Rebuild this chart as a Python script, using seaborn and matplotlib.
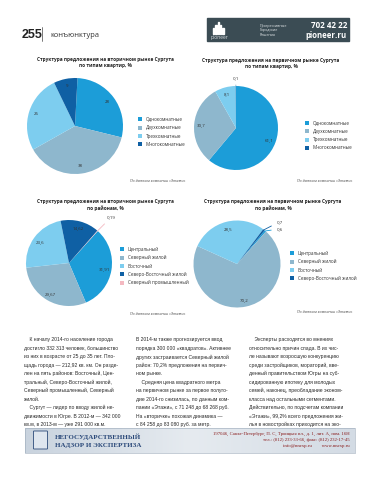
import numpy as np
import matplotlib
matplotlib.use("Agg")
import matplotlib.pyplot as plt
import matplotlib.patches as mpatches
import seaborn as sns

# =====================================================
# DATA
# =====================================================

room_types = ["Однокомнатные", "Двухкомнатные", "Трехкомнатные", "Многокомнатные"]
secondary_rooms = [28, 38, 26, 8]
secondary_rooms_lbl = ["28", "38", "26", "9"]
primary_rooms = [61.1, 30.7, 8.1, 0.1]
primary_rooms_lbl = ["61,1", "30,7", "8,1", "0,1"]

districts_sec = ["Центральный", "Северный жилой", "Восточный",
                 "Северо-Восточный жилой", "Северный промышленный"]
secondary_districts = [31.91, 29.67, 23.6, 14.62, 0.19]
secondary_districts_lbl = ["31,91", "29,67", "23,6", "14,62", "0,19"]

districts_prim = ["Центральный", "Северный жилой", "Восточный", "Северо-Восточный жилой"]
primary_districts = [0.6, 70.2, 28.5, 0.7]
primary_districts_lbl = ["0,6", "70,2", "28,5", "0,7"]

titles = [
    "Структура предложения на вторичном рынке Сургута\nпо типам квартир, %",
    "Структура предложения на первичном рынке Сургута\nпо типам квартир, %",
    "Структура предложения на вторичном рынке Сургута\nпо районам, %",
    "Структура предложения на первичном рынке Сургута\nпо районам, %",
]
source = "По данным компании «Этажи»"

col1 = [
    "    К началу 2014-го население города",
    "достигло 332 313 человек, большинство",
    "из них в возрасте от 25 до 35 лет. Пло-",
    "щадь города — 212,92 кв. км. Он разде-",
    "лен на пять районов: Восточный, Цен-",
    "тральный, Северо-Восточный жилой,",
    "Северный промышленный, Северный",
    "жилой.",
    "    Сургут — лидер по вводу жилой не-",
    "движимости в Югре. В 2012-м — 342 000",
    "кв.м, в 2013-м — уже 291 000 кв.м.",
]
col2 = [
    "В 2014-м также прогнозируется ввод",
    "порядка 300 000 «квадратов». Активнее",
    "других застраивается Северный жилой",
    "район: 70,2% предложения на первич-",
    "ном рынке.",
    "    Средняя цена квадратного метра",
    "на первичном рынке за первое полуго-",
    "дие 2014-го снизилась, по данным ком-",
    "пании «Этажи», с 71 248 до 68 268 руб.",
    "На «вторичке» похожая динамика —",
    "с 84 258 до 83 080 руб. за метр.",
]
col3 = [
    "    Эксперты расходятся во мнениях",
    "относительно причин спада. В их чис-",
    "ле называют возросшую конкуренцию",
    "среди застройщиков, мораторий, вве-",
    "денный правительством Югры на суб-",
    "сидированную ипотеку для молодых",
    "семей, наконец, преобладание эконом-",
    "класса над остальными сегментами.",
    "Действительно, по подсчетам компании",
    "«Этажи», 99,2% всего предложения жи-",
    "лья в новостройках приходится на эко-",
]

# =====================================================
# STYLE
# =====================================================

sns.set_theme(style="white")
plt.rcParams["font.family"] = ["Open Sans", "DejaVu Sans"]

BLUE = "#1c9dd8"
GREY = "#8eb7cd"
LIGHT = "#7dcdef"
DARK = "#0f60a4"
PINK = "#f4b9c1"
palette = sns.color_palette([BLUE, GREY, LIGHT, DARK, PINK])

BODY = ["Liberation Sans", "DejaVu Sans"]
SERIF = ["Liberation Serif", "DejaVu Serif"]

W, H = 373, 480
fig = plt.figure(figsize=(W / 100, H / 100), dpi=100)

bg = fig.add_axes([0, 0, 1, 1])
bg.set_xlim(0, W)
bg.set_ylim(H, 0)
bg.axis("off")


def pie_axes(cx, cy, r):
    ax = fig.add_axes([(cx - r) / W, 1 - (cy + r) / H, 2 * r / W, 2 * r / H])
    return ax


def polar(d, ang):
    return d * np.cos(np.radians(ang)), d * np.sin(np.radians(ang))


def draw_pie(cx, cy, r, values, labels, colors, start, small=None):
    ax = pie_axes(cx, cy, r)
    wedges, _ = ax.pie(values, colors=colors, startangle=start,
                       counterclock=False, wedgeprops=dict(linewidth=0))
    small = small or {}
    for i, w in enumerate(wedges):
        ang = (w.theta1 + w.theta2) / 2
        if i in small:
            d, dang, lc = small[i]
            tx, ty = polar(d, ang + dang)
            ex, ey = polar(1.0, ang)
            ax.annotate(labels[i], xy=(ex, ey), xytext=(tx, ty),
                        fontsize=3.2, color="#333333", ha="center", va="center",
                        annotation_clip=False,
                        arrowprops=dict(arrowstyle="-", color=lc, lw=0.6,
                                        shrinkA=1.5, shrinkB=0))
        else:
            tx, ty = polar(0.84, ang)
            ax.text(tx, ty, labels[i], fontsize=3.2, color="#333333",
                    ha="center", va="center")
    ax.set_xlim(-1, 1)
    ax.set_ylim(-1, 1)
    ax.axis("off")
    return wedges


def draw_legend(wedges, names, x, y):
    fig.legend(wedges, names, loc="upper left",
               bbox_to_anchor=(x / W, 1 - y / H), frameon=False,
               fontsize=3.3, handlelength=0.95, handleheight=0.95,
               handletextpad=0.7, labelspacing=0.72, borderpad=0,
               borderaxespad=0, labelcolor="#333333")


# =====================================================
# HEADER
# =====================================================

bg.text(22, 38, "255", fontsize=9, fontweight="bold", family=BODY,
        color="#222222", ha="left", va="baseline")
bg.plot([42, 42], [27, 41], color="#444444", lw=0.5)
bg.text(50, 37, "конъюнктура", fontsize=5.4, color="#333333",
        ha="left", va="baseline")

bg.add_patch(mpatches.Rectangle((207, 18), 142, 23, color="#3b4c54"))
for k, hgt in enumerate([6, 9, 12, 9, 6]):
    bg.add_patch(mpatches.Rectangle((213 + k * 2.3, 34 - hgt), 1.4, hgt,
                                    color="white"))
bg.text(211, 38.5, "pioneer", fontsize=3.6, color="#d8dde0",
        ha="left", va="baseline")
bg.text(260, 24, "Прогрессивные\nГородские\nРешения", fontsize=2.6,
        color="#e0e4e6", ha="left", va="top", linespacing=1.1)
bg.text(347, 28, "702 42 22", fontsize=5.8, fontweight="bold",
        color="white", ha="right", va="baseline")
bg.text(347, 37.5, "pioneer.ru", fontsize=5.6, fontweight="bold",
        color="white", ha="right", va="baseline")

# =====================================================
# CHARTS
# =====================================================

title_kw = dict(fontsize=3.4, fontweight="bold", color="#222222",
                ha="center", va="top", linespacing=1.3)
src_kw = dict(fontsize=2.7, style="italic", color="#444444",
              ha="right", va="center")

# 1. secondary market, room types
bg.text(105, 57, titles[0], **title_kw)
w1 = draw_pie(75, 126, 48, secondary_rooms, secondary_rooms_lbl,
              palette[:4], 87)
draw_legend(w1, room_types, 138, 117)
bg.text(185, 181, source, **src_kw)

# 2. primary market, room types
bg.text(271, 58, titles[1], **title_kw)
w2 = draw_pie(236, 128, 42, primary_rooms, primary_rooms_lbl,
              palette[:4], 90, small={3: (1.2, 0, GREY)})
draw_legend(w2, room_types, 305, 120.5)
bg.text(352, 181, source, **src_kw)

# 3. secondary market, districts
bg.text(105, 199, titles[2], **title_kw)
w3 = draw_pie(69, 263, 43, secondary_districts, secondary_districts_lbl,
              palette, 48, small={4: (1.45, -1, PINK)})
draw_legend(w3, districts_sec, 120, 247)
bg.text(185, 314, source, **src_kw)

# 4. primary market, districts
bg.text(273, 199, titles[3], **title_kw)
w4 = draw_pie(237, 264, 43.5, primary_districts, primary_districts_lbl,
              palette[:4], 50.5,
              small={0: (1.27, -10, BLUE), 3: (1.38, -7, DARK)})
draw_legend(w4, districts_prim, 290, 251)
bg.text(352, 312, source, **src_kw)

# =====================================================
# BODY TEXT
# =====================================================

for x0, lines in [(24, col1), (136, col2), (249, col3)]:
    for i, line in enumerate(lines):
        bg.text(x0, 340 + i * 8.45, line, fontsize=3.6, family=BODY,
                color="#2a2a2a", ha="left", va="center")

# =====================================================
# FOOTER BANNER
# =====================================================

grad = np.linspace(0, 1, 256).reshape(1, -1)
cmap = sns.blend_palette(["#c9d3de", "#e6ebf0", "#d3dbe4"], as_cmap=True)
bg.imshow(grad, extent=(25, 355, 453, 428), cmap=cmap, aspect="auto", zorder=0)
bg.add_patch(mpatches.Rectangle((25, 428), 330, 25, fill=False,
                                edgecolor="#9aa8b8", lw=0.4))
bg.add_patch(mpatches.FancyBboxPatch((34, 431.5), 13, 17,
                                     boxstyle="round,pad=0.5",
                                     facecolor="#dfe6ef", edgecolor="#2c4a7a",
                                     lw=0.6))
bg.text(55, 436.5, "НЕГОСУДАРСТВЕННЫЙ", fontsize=5, fontweight="bold",
        family=SERIF, color="#2c4a7a", va="center")
bg.text(55, 445, "НАДЗОР И ЭКСПЕРТИЗА", fontsize=5, fontweight="bold",
        family=SERIF, color="#2c4a7a", va="center")
addr = ["197046, Санкт-Петербург, П. С, Троицкая пл., д. 1, лит. А, пом. 16Н",
        "тел.: (812) 233-33-66, факс: (812) 232-17-45",
        "info@nnexp.ru        www.nnexp.ru"]
for i, line in enumerate(addr):
    bg.text(350, 433.5 + i * 6.5, line, fontsize=3.4, family=SERIF,
            color="#8a1c1c", ha="right", va="center")

plt.savefig("out.png", dpi=100, facecolor="white")
plt.close()
